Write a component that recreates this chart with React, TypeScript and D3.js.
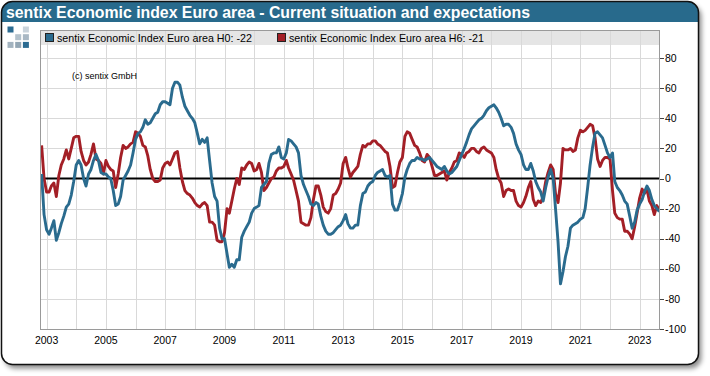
import React from 'react';
import * as d3 from 'd3';

const startYear = 2002;
const startMonth = 10; // November 2002 (0-based month)

// sentix Economic Index Euro area H0 (current situation), monthly from Nov 2002
const h0Values = [
  3, -24,
  -34, -37, -33, -28, -41, -36, -30, -25, -19, -17, -11, -2,
  9, 12, 9, 0, -5, 3, 6, 12, 16, 12, 4, 3,
  3, 1, 0, -8, -18, -17, -12, -1, 2, 5, 9, 17,
  26, 30, 31, 34, 39, 36, 37, 40, 43, 44, 49, 51,
  51, 50, 49, 60, 64, 64, 62, 54, 48, 45, 42, 40,
  37, 30, 23, 26, 24, 27, 12, -3, -12, -15, -33, -40,
  -40, -50, -59, -57, -59, -54, -54, -39, -35, -32, -29, -23,
  -20, -19, -18, -6, -4, -2, 10, 16, 17, 17, 21, 14,
  13, 17, 26, 25, 23, 21, 17, 2, -4, -8, -12, -17,
  -18, -16, -17, -25, -31, -35, -37, -37, -36, -34, -32, -31,
  -28, -24, -30, -33, -33, -31, -31, -18, -10, -9, -5, -3,
  -2, 2, 4, 5, 6, 2, 1, 2, -17, -21, -21, -16,
  -10, 1, 6, 10, 12, 12, 14, 13, 13, 12, 13, 14,
  12, 10, 8, 7, 6, 8, 5, 3, 4, 6, 8, 12,
  16, 20, 24, 29, 33, 35, 37, 39, 40, 42, 45, 47,
  48, 49, 47, 44, 40, 35, 36, 36, 34, 30, 23, 19,
  16, 9, 6, 6, 10, 5, -2, -6, -9, -15, -6, 1,
  6, 0, -20, -42, -70, -62, -52, -45, -33, -31, -30, -29,
  -27, -26, -20, -6, 9, 21, 30, 31, 29, 27, 22, 17,
  14, 17, -2, -6, -8, -11, -15, -17, -25, -33, -29, -21,
  -17, -14, -9, -5, -8, -14, -18, -20, -22,
];

// sentix Economic Index Euro area H6 (expectations), monthly from Nov 2002
const h6Values = [
  22, 0,
  -9, -9, -5, -3, -12, 2, 9, 13, 19, 13, 20, 27,
  28, 28, 18, 12, 9, 11, 16, 23, 13, 12, 10, 3,
  12, 8, 6, 5, -6, 3, 14, 22, 20, 21, 23, 24,
  31, 30, 28, 22, 21, 15, 6, 0, -2, -2, -1, 7,
  10, 11, 9, 13, 17, 18, 7, -2, -8, -10, -11, -13,
  -16, -18, -19, -17, -16, -18, -29, -29, -31, -41, -42, -42,
  -36, -20, -23, -15, -7, 0, -4, 7, 6, 9, 11, 10,
  5, 6, 10, 4, -8, -6, -3, 0, 1, 5, 7, 7,
  8, 12, 7, 3, -1, -8, -15, -29, -30, -31, -31, -26,
  -14, -5, -5, -11, -19, -22, -23, -20, -11, -10, -7, -3,
  10, 14, 7, 1, 4, 6, 8, 16, 22, 21, 23, 23,
  25, 25, 23, 22, 20, 18, 17, 8, -6, -5, 4, 11,
  14, 28, 31, 30, 26, 22, 21, 17, 12, 11, 16, 14,
  8, 2, 2, 3, 4, 5, -1, 4, 7, 11, 12, 17,
  16, 14, 17, 18, 20, 20, 18, 17, 20, 21, 19, 18,
  17, 14, 6, 0, -3, -12, -8, -7, -8, -8, -15, -18,
  -19, -16, -12, -6, -2, -14, -18, -15, -16, -12, -2, 4,
  9, 6, -10, -16, -3, 20, 19, 19, 20, 18, 19, 27,
  32, 31, 32, 34, 36, 35, 27, 13, 8, 12, 14, 14,
  13, -8, -23, -26, -27, -27, -35, -35, -37, -40, -32, -23,
  -13, -7, -10, -7, -15, -18, -24, -18, -21,
];

const yTicks = [-100, -80, -60, -40, -20, 0, 20, 40, 60, 80];
const xLabelYears = [2003, 2005, 2007, 2009, 2011, 2013, 2015, 2017, 2019, 2021, 2023];
const gridYears = d3.range(2003, 2024);
const seriesLabels = [
  'sentix Economic Index Euro area H0: -22',
  'sentix Economic Index Euro area H6: -21',
];
const titleText = 'sentix Economic index Euro area - Current situation and expectations';
const copyrightText = '(c) sentix GmbH';

const BLUE = '#2a6b8e';
const RED = '#a31f26';
const HEADER = '#286a8c';
const FONT = 'Arial, "Liberation Sans", Helvetica, sans-serif';

export default function App() {
  const W = 710;
  const H = 376;
  const L = 40, R = 660, T = 30, B = 330;

  const dates = h0Values.map((_, i) => new Date(startYear, startMonth + i, 1));
  const x = d3.scaleTime()
    .domain([new Date(2002, 9, 12), new Date(2023, 8, 9)])
    .range([L, R]);
  const y = d3.scaleLinear().domain([-100, 100]).range([329, 28]);

  const mkLine = (vals: number[]) =>
    d3.line<number>()
      .x((_, i) => x(dates[i]))
      .y((d) => y(d))
      .curve(d3.curveLinear)(vals) || '';

  const px = (v: number) => Math.round(v) + 0.5;

  const logoCells = [
    { c: 0, r: 0, f: '#2b6b91' },
    { c: 2, r: 0, f: '#c9d3db' },
    { c: 1, r: 1, f: '#b4c2cc' },
    { c: 2, r: 1, f: '#a9b8c4' },
    { c: 0, r: 2, f: '#a3b3bf' },
    { c: 1, r: 2, f: '#93a6b4' },
    { c: 2, r: 2, f: '#2b6b91' },
  ];

  return (
    <svg
      width={W}
      height={H}
      style={{ position: 'absolute', left: 0, top: 0, fontFamily: FONT }}
    >
      <defs>
        <filter id="shadow" x="-5%" y="-5%" width="112%" height="115%">
          <feDropShadow dx="3" dy="4" stdDeviation="2.5" floodColor="#000" floodOpacity="0.45" />
        </filter>
        <clipPath id="frameClip">
          <rect x={1.5} y={1.5} width={697} height={363} rx={11} />
        </clipPath>
        <clipPath id="plotClip">
          <rect x={L} y={T} width={R - L} height={B - T} />
        </clipPath>
      </defs>

      {/* outer frame */}
      <rect x={1.5} y={1.5} width={697} height={363} rx={11} fill="#fff" filter="url(#shadow)" />
      <g clipPath="url(#frameClip)">
        <rect x={0} y={0} width={W} height={22} fill={HEADER} />
      </g>
      <rect x={1.5} y={1.5} width={697} height={363} rx={11} fill="none" stroke="#111" strokeWidth={1.5} />

      <text x={6} y={18} fill="#fff" fontWeight="bold" fontSize={16} textLength={524} lengthAdjust="spacingAndGlyphs">
        {titleText}
      </text>

      {/* logo */}
      {logoCells.map((d, i) => (
        <rect key={i} x={7.5 + d.c * 7.7} y={26.5 + d.r * 7.7} width={6} height={6} fill={d.f} />
      ))}

      {/* legend band */}
      <rect x={L} y={T} width={R - L} height={15} fill="#e5e5e5" />

      {/* grid */}
      {gridYears.map((yr) => (
        <line
          key={yr}
          x1={px(x(new Date(yr, 0, 1)))}
          x2={px(x(new Date(yr, 0, 1)))}
          y1={T}
          y2={B}
          stroke="#d9d9d9"
          strokeWidth={1}
        />
      ))}
      {yTicks.filter((t) => t !== 0 && t !== -100).map((t) => (
        <line key={t} x1={L} x2={R} y1={px(y(t))} y2={px(y(t))} stroke="#d9d9d9" strokeWidth={1} />
      ))}

      {/* zero line */}
      <line x1={L} x2={R} y1={y(0)} y2={y(0)} stroke="#000" strokeWidth={2} />

      {/* series */}
      <g clipPath="url(#plotClip)">
        <path d={mkLine(h6Values)} fill="none" stroke={RED} strokeWidth={2.9} strokeLinejoin="round" />
        <path d={mkLine(h0Values)} fill="none" stroke={BLUE} strokeWidth={2.9} strokeLinejoin="round" />
      </g>

      {/* plot border */}
      <rect x={L + 0.5} y={T + 0.5} width={R - L - 1} height={B - T - 1} fill="none" stroke="#9a9a9a" strokeWidth={1} />

      {/* legend */}
      <rect x={45.5} y={33.5} width={8} height={8} fill={BLUE} stroke="#222" strokeWidth={1} />
      <text x={57} y={42} fontSize={10.7} fill="#000">{seriesLabels[0]}</text>
      <rect x={277.5} y={33.5} width={8} height={8} fill={RED} stroke="#222" strokeWidth={1} />
      <text x={289} y={42} fontSize={10.7} fill="#000">{seriesLabels[1]}</text>

      <text x={72} y={79} fontSize={9} fill="#000">{copyrightText}</text>

      {/* right y axis */}
      {yTicks.map((t) => (
        <g key={t}>
          <line x1={R} x2={R + 4} y1={px(y(t))} y2={px(y(t))} stroke="#444" strokeWidth={1} />
          <text x={R + 5} y={y(t)} dy="0.35em" fontSize={10.5} fill="#000">{t}</text>
        </g>
      ))}

      {/* x axis labels */}
      {xLabelYears.map((yr) => (
        <text key={yr} x={x(new Date(yr, 0, 1))} y={344} textAnchor="middle" fontSize={10.5} fill="#000">
          {yr}
        </text>
      ))}
    </svg>
  );
}
